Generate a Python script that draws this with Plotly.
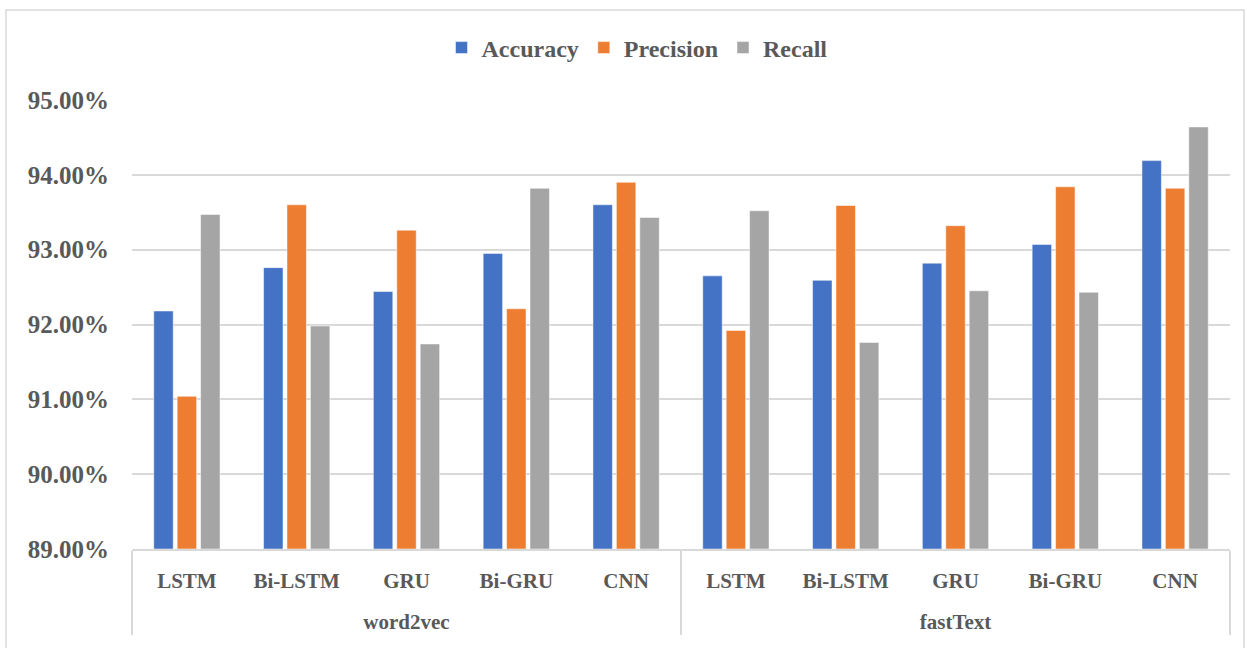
import plotly.graph_objects as go

# Embedding groups and models on the category axis
groups = ["word2vec", "fastText"]
model_names = ["LSTM", "Bi-LSTM", "GRU", "Bi-GRU", "CNN"]

# Scores in percent, word2vec models first, then fastText
accuracy = [92.18, 92.76, 92.44, 92.95, 93.60, 92.65, 92.59, 92.82, 93.07, 94.19]
precision = [91.04, 93.60, 93.26, 92.21, 93.90, 91.92, 93.59, 93.32, 93.84, 93.82]
recall = [93.47, 91.98, 91.74, 93.82, 93.43, 93.52, 91.76, 92.45, 92.43, 94.64]

series = [
    ("Accuracy", accuracy, "#4472C4"),
    ("Precision", precision, "#ED7D31"),
    ("Recall", recall, "#A5A5A5"),
]

# Two-level category axis; the leading break drops the group row lower
outer = [f"<br>{g}" for g in groups for _ in model_names]
inner = model_names * len(groups)

W, H = 1247, 648
ML, MR, MT, MB = 132, 17, 100, 99
pw, ph = W - ML - MR, H - MT - MB
BASE = 89

fig = go.Figure()
for name, vals, color in series:
    fig.add_trace(go.Bar(
        x=[outer, inner],
        y=[v - BASE for v in vals],
        base=BASE,
        name=name,
        marker=dict(color=color, line=dict(color="white", width=0.5)),
        customdata=vals,
        hovertemplate="%{customdata:.2f}%<extra>" + name + "</extra>",
    ))

font_family = "Liberation Serif"
text_col = "#595959"

fig.update_layout(
    width=W, height=H,
    margin=dict(l=ML, r=MR, t=MT, b=MB),
    paper_bgcolor="white",
    plot_bgcolor="white",
    barmode="group",
    bargap=0.36,
    bargroupgap=0.17,
    font=dict(family=font_family, size=22, color=text_col, weight="bold"),
    legend=dict(
        orientation="h",
        x=(637 - ML) / pw, xanchor="center",
        y=(H - MB - 48) / ph, yanchor="middle",
        font=dict(family=font_family, size=24, color=text_col, weight="bold"),
        itemwidth=30,
        traceorder="normal",
    ),
    showlegend=True,
)

fig.update_yaxes(
    range=[89, 95],
    tickvals=[89, 90, 91, 92, 93, 94, 95],
    ticktext=[f"{v:.2f}%" for v in [89, 90, 91, 92, 93, 94, 95]],
    showgrid=True,
    gridcolor="#d9d9d9",
    gridwidth=1.5,
    zeroline=False,
    showline=False,
    ticks="",
    ticklabelstandoff=22,
    tickfont=dict(family=font_family, size=25, color=text_col, weight="bold"),
)

fig.update_xaxes(
    type="multicategory",
    showline=True,
    linecolor="#d9d9d9",
    linewidth=1.5,
    showdividers=True,
    dividercolor="#d9d9d9",
    dividerwidth=1.5,
    ticks="",
    ticklabelstandoff=12,
    tickfont=dict(family=font_family, size=21, color=text_col, weight="bold"),
)

# Chart frame
fig.add_shape(
    type="rect", xref="paper", yref="paper",
    x0=(6 - ML) / pw, x1=(1244 - ML) / pw,
    y0=(H - MB - 700) / ph, y1=(H - MB - 10) / ph,
    line=dict(color="#d9d9d9", width=1.5),
    fillcolor="rgba(0,0,0,0)",
    layer="below",
)

fig.write_html("out.html")
